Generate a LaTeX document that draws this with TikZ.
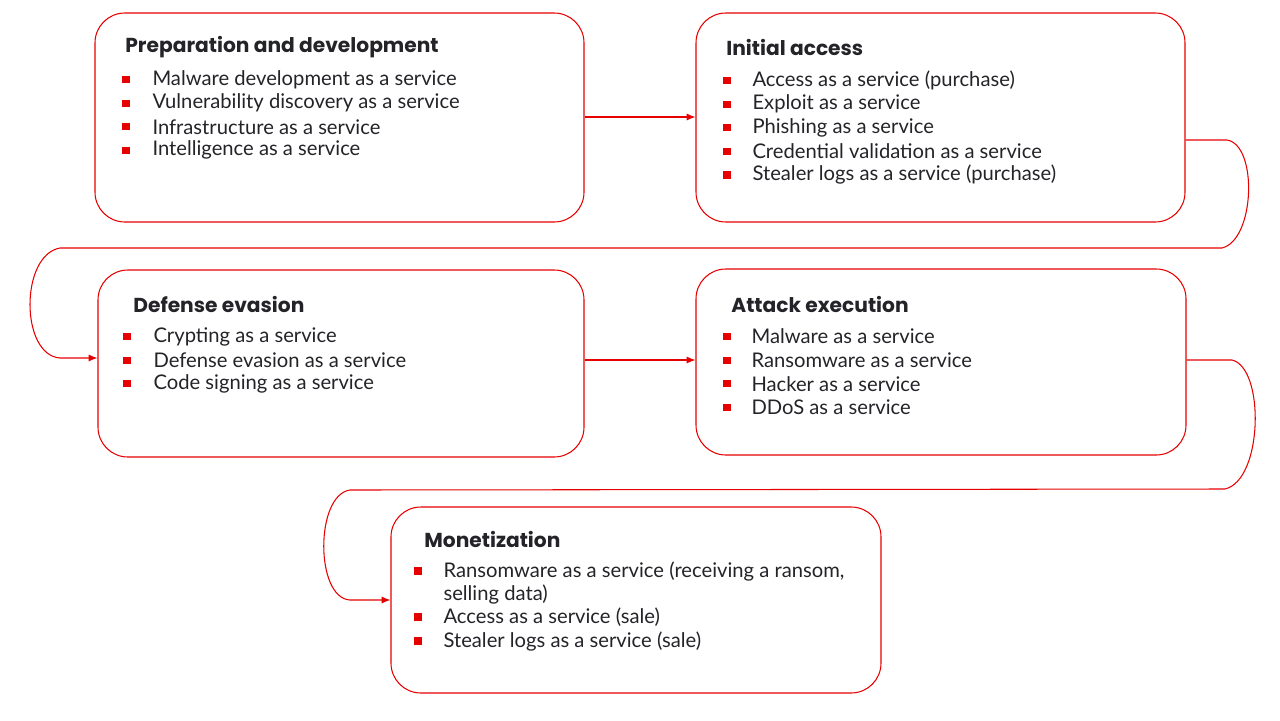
\documentclass[tikz,border=0pt]{standalone}
\usepackage{fontspec}
\setmainfont{Lato}
\newfontfamily\headfont{Poppins}
\usetikzlibrary{arrows.meta,positioning}
\definecolor{kred}{RGB}{230,0,0}
\definecolor{ktext}{RGB}{35,35,40}
\begin{document}
\begin{tikzpicture}
  [
  x=0.02cm, y=-0.02cm, line width=0.6pt, >={Latex[length=5pt,width=4pt]},
  stage/.style={draw=kred, rounded corners=17pt, inner sep=0pt},
  head/.style={anchor=west, font=\headfont\bfseries\fontsize{11.5}{13}\selectfont, text=ktext},
  item/.style={anchor=west, font=\fontsize{11.5}{13}\selectfont, text=ktext, inner sep=0pt},
  bullet/.style={fill=kred, minimum size=4pt, inner sep=0pt},
  link/.style={draw=kred, ->}
  ]
  \useasboundingbox (0,0) rectangle (1280,720);

  % stages
  \node[stage, minimum width=489*0.02cm, minimum height=209*0.02cm] (prep) at (339.5,117.5) {};
  \node[stage, minimum width=489*0.02cm, minimum height=209*0.02cm] (init) at (940.5,117.5) {};
  \node[stage, minimum width=486*0.02cm, minimum height=187*0.02cm] (def) at (341,363.5) {};
  \node[stage, minimum width=490*0.02cm, minimum height=186*0.02cm] (exec) at (941,362) {};
  \node[stage, minimum width=490*0.02cm, minimum height=186*0.02cm] (mon) at (636,600) {};

  % titles
  \node[head] (prep-t) at (119,47) {Preparation and development};
  \node[head] (init-t) at (720,47) {Initial access};
  \node[head] (def-t) at (127,304) {Defense evasion};
  \node[head] (exec-t) at (725,304) {Attack execution};
  \node[head] (mon-t) at (418,539) {Monetization};

  % items
  \foreach \t [count=\i] in {Malware development as a service, Vulnerability discovery as a service,
      Infrastructure as a service, Intelligence as a service} {
    \node[bullet] (prep-b\i) at (126,56+23.6*\i) {};
    \node[item] (prep-i\i) at (152,56+23.6*\i) {\t};
  }
  \foreach \t [count=\i] in {Access as a service (purchase), Exploit as a service, Phishing as a service,
      Credential validation as a service, Stealer logs as a service (purchase)} {
    \node[bullet] (init-b\i) at (727,57+23.6*\i) {};
    \node[item] (init-i\i) at (752,57+23.6*\i) {\t};
  }
  \foreach \t [count=\i] in {Crypting as a service, Defense evasion as a service, Code signing as a service} {
    \node[bullet] (def-b\i) at (127,313+23.6*\i) {};
    \node[item] (def-i\i) at (153,313+23.6*\i) {\t};
  }
  \foreach \t [count=\i] in {Malware as a service, Ransomware as a service, Hacker as a service, DDoS as a service} {
    \node[bullet] (exec-b\i) at (727,313+23.6*\i) {};
    \node[item] (exec-i\i) at (751,313+23.6*\i) {\t};
  }
  \node[bullet] (mon-b1) at (418,571) {};
  \node[item] (mon-i1) at (443,571) {Ransomware as a service (receiving a ransom,};
  \node[item] (mon-i1b) at (443,594) {selling data)};
  \node[bullet] (mon-b2) at (418,617) {};
  \node[item] (mon-i2) at (443,617) {Access as a service (sale)};
  \node[bullet] (mon-b3) at (418,641) {};
  \node[item] (mon-i3) at (443,641) {Stealer logs as a service (sale)};

  % connectors
  \draw[link] (prep.east |- 0,117) -- (init.west |- 0,117);
  \draw[link] (def.east |- 0,360) -- (exec.west |- 0,360);
  \draw[link] (init.east |- 0,140) -- (1227,140)
    .. controls (1258,145) and (1255,240) .. (1222,248) -- (60,248)
    .. controls (20,255) and (20,355) .. (60,358) -- (def.west |- 0,358);
  \draw[link] (exec.east |- 0,360) -- (1232,360)
    .. controls (1265,368) and (1263,480) .. (1225,489) -- (350,490)
    .. controls (315,495) and (315,598) .. (350,600) -- (mon.west |- 0,600);
\end{tikzpicture}
\end{document}
